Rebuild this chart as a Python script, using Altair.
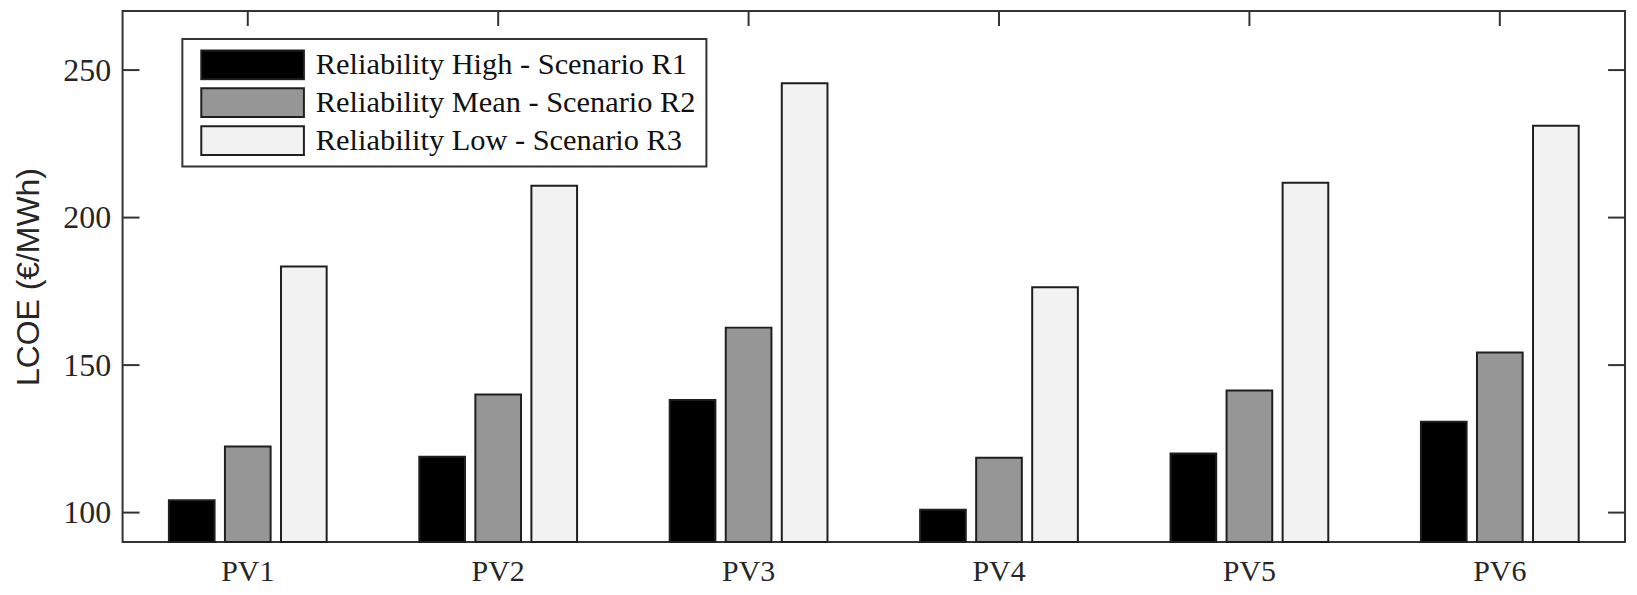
import altair as alt
import pandas as pd

categories = ["PV1", "PV2", "PV3", "PV4", "PV5", "PV6"]
series = [
    "Reliability High - Scenario R1",
    "Reliability Mean - Scenario R2",
    "Reliability Low - Scenario R3",
]
r1_values = [104.2, 118.9, 138.2, 101.0, 120.0, 130.8]
r2_values = [122.4, 140.0, 162.7, 118.6, 141.4, 154.3]
r3_values = [183.4, 210.8, 245.5, 176.4, 211.8, 231.1]
colors = ["#000000", "#969696", "#f2f2f2"]
y_ticks = [100, 150, 200, 250]

rows = []
for s, vals in zip(series, [r1_values, r2_values, r3_values]):
    for c, v in zip(categories, vals):
        rows.append({"cat": c, "series": s, "value": v})
df = pd.DataFrame(rows)
ticks_df = pd.DataFrame({"t": y_ticks})
cat_df = pd.DataFrame({"cat": categories})

W = 1508
H = 533
FRAME = "#333333"

xscale = alt.Scale(domain=categories, paddingInner=0.37, paddingOuter=0.185)
yscale = alt.Scale(domain=[90, 270], nice=False, zero=False)

legend_path = "M-1,-0.28H1V0.28H-1Z"

bars = alt.Chart(df).mark_bar(stroke="#1f1f1f", strokeWidth=2, opacity=1).encode(
    x=alt.X("cat:N", scale=xscale, sort=categories,
            axis=alt.Axis(title=None, labelAngle=0, labelAlign="center", labelBaseline="top",
                          bandPosition=0.5, ticks=False, domain=False,
                          labelFont="Liberation Serif", labelFontSize=30,
                          labelColor="#262626", labelPadding=15)),
    xOffset=alt.XOffset("series:N", sort=series,
                        scale=alt.Scale(domain=series, paddingInner=0.185, paddingOuter=0)),
    y=alt.Y("value:Q", scale=yscale,
            axis=alt.Axis(title="LCOE (€/MWh)", values=y_ticks, ticks=False, domain=False,
                          grid=False, labelFont="Liberation Serif", labelFontSize=32,
                          labelColor="#262626", labelPadding=12, labelAlign="right",
                          labelBaseline="middle",
                          titleFont="Liberation Sans", titleFontSize=32,
                          titleFontWeight="normal", titleColor="#262626",
                          titlePadding=17)),
    y2=alt.datum(90),
    color=alt.Color("series:N", sort=series,
                    scale=alt.Scale(domain=series, range=colors),
                    legend=alt.Legend(orient="none", legendX=60, legendY=28, title=None,
                                      symbolType=legend_path, symbolSize=103 * 103,
                                      clipHeight=32, rowPadding=6,
                                      labelFont="Liberation Serif", labelFontSize=30.5,
                                      labelColor="#111111", labelOffset=11, labelLimit=0,
                                      padding=10, symbolOffset=8,
                                      strokeColor=FRAME, fillColor="white",
                                      symbolStrokeColor="#1f1f1f", symbolStrokeWidth=2,
                                      symbolOpacity=1)),
)

left_ticks = alt.Chart(ticks_df).mark_rule(color=FRAME, strokeWidth=2).encode(
    y=alt.Y("t:Q", scale=yscale), x=alt.value(0), x2=alt.value(17)
)
right_ticks = alt.Chart(ticks_df).mark_rule(color=FRAME, strokeWidth=2).encode(
    y=alt.Y("t:Q", scale=yscale), x=alt.value(W - 17), x2=alt.value(W)
)
top_ticks = alt.Chart(cat_df).mark_rule(color=FRAME, strokeWidth=2).encode(
    x=alt.X("cat:N", scale=xscale, sort=categories), y=alt.value(0), y2=alt.value(15)
)

chart = alt.layer(left_ticks, right_ticks, top_ticks, bars).properties(
    width=W, height=H,
    padding={"left": 115, "top": 2, "right": 4, "bottom": 51},
    autosize=alt.AutoSizeParams(type="none"),
).configure_view(stroke=FRAME, strokeWidth=2).configure_legend(strokeWidth=2)

chart.save("out.html", embed_options={"renderer": "svg", "actions": False})
